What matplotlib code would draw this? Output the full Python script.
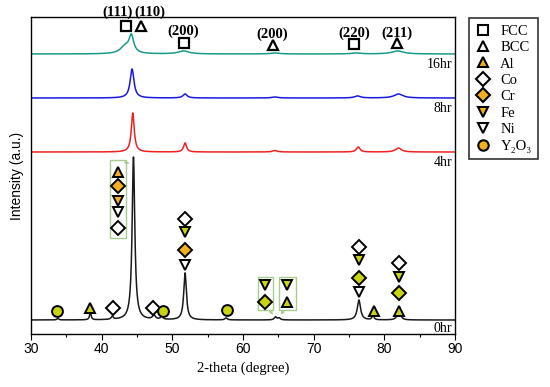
import numpy as np
import matplotlib
matplotlib.use("Agg")
import matplotlib.pyplot as plt
from matplotlib.lines import Line2D
from matplotlib.patches import Rectangle

SERIF = ["Liberation Serif", "DejaVu Serif"]
SANS = ["Liberation Sans", "DejaVu Sans"]

# ---- data (y in arbitrary intensity units) ----
two_theta = np.linspace(30, 90, 3000)

# each pattern: baseline, peak centres, peak heights, peak widths (FWHM, deg)
base_0hr = 14
pos_0hr = [33.8, 38.4, 41.5, 44.5, 47.4, 48.5, 51.8, 57.6, 64.6, 65.1, 76.4, 78.4, 81.9, 82.3]
hgt_0hr = [1.5, 8, 3, 163, 4, 3, 47, 2, 3, 2, 20, 5, 4, 3]
wid_0hr = [0.3, 0.25, 0.35, 0.45, 0.5, 0.4, 0.45, 0.4, 0.4, 0.4, 0.55, 0.3, 0.6, 0.5]

base_4hr = 182
pos_4hr = [44.4, 51.8, 64.5, 76.3, 82.0]
hgt_4hr = [39, 9, 1.5, 5, 4]
wid_4hr = [0.5, 0.5, 0.8, 0.6, 1.0]

base_8hr = 236
pos_8hr = [44.3, 51.8, 64.5, 76.2, 82.0]
hgt_8hr = [29, 4, 1, 2, 4]
wid_8hr = [0.65, 0.7, 1.0, 1.0, 1.5]

base_16hr = 280
pos_16hr = [43.3, 44.2, 51.6, 64.5, 76.0, 81.9]
hgt_16hr = [7, 17, 3, 1, 1, 3]
wid_16hr = [1.6, 0.8, 1.8, 1.5, 1.5, 2.0]

pattern_names = ["0hr", "4hr", "8hr", "16hr"]
pattern_colors = ["#1a1a1a", "#ee2222", "#1a1adf", "#1a9a8a"]
label_y = [6, 172, 225, 270]

# phase peak labels above the 16hr pattern
hkl_text = ["(111)", "(110)", "(200)", "(200)", "(220)", "(211)"]
hkl_x = [42.3, 46.8, 51.6, 64.2, 75.7, 81.8]
hkl_marker = ["s", "^", "s", "^", "s", "^"]
hkl_mx = [43.4, 45.6, 51.6, 64.2, 75.7, 81.8]
hkl_my = [308, 308, 291, 289, 290, 291]
hkl_ty = [322, 322, 303, 300, 301, 301]

# element markers on the 0hr pattern
elem_x = [33.7, 38.3, 41.6, 47.3, 48.7, 57.7,
          42.3, 42.3, 42.3, 42.3, 42.3,
          51.8, 51.8, 51.8, 51.8,
          63.1, 63.1, 66.2, 66.2,
          76.4, 76.4, 76.4, 76.4,
          78.5,
          82.1, 82.1, 82.1, 82.1]
elem_y = [23, 26, 26, 26, 23, 24,
          162, 148, 133, 122, 106,
          115, 102, 84, 69,
          49, 32, 49, 32,
          87, 74, 56, 42,
          23,
          71, 57, 41, 23]
elem_kind = ["Y2O3", "Al", "Co", "Co", "Y2O3", "Y2O3",
             "Al_o", "Cr_o", "Fe_o", "Ni", "Co",
             "Co", "Fe", "Cr_o", "Ni",
             "Fe", "Cr", "Fe", "Al",
             "Co", "Fe", "Cr", "Ni",
             "Al",
             "Co", "Fe", "Cr", "Al"]

# highlight boxes (x0, x1, y0, y1) and arrows pointing to peaks
box_x0 = [41.2, 62.1, 65.1]
box_x1 = [43.4, 64.2, 67.5]
box_y0 = [96, 24, 24]
box_y1 = [174, 57, 57]
arrow_from = [(43.4, 172), (63.9, 23), (65.7, 23)]
arrow_to = [(44.2, 169), (64.4, 17), (65.1, 17)]

orange = "#f0b020"
lime = "#c8d410"
styles = {
    "Al": dict(marker="^", mfc=lime), "Al_o": dict(marker="^", mfc=orange),
    "Co": dict(marker="D", mfc="white"),
    "Cr": dict(marker="D", mfc=lime), "Cr_o": dict(marker="D", mfc=orange),
    "Fe": dict(marker="v", mfc=lime), "Fe_o": dict(marker="v", mfc=orange),
    "Ni": dict(marker="v", mfc="white"),
    "Y2O3": dict(marker="o", mfc=lime),
}


def pattern(base, pos, hgt, wid):
    y = np.full_like(two_theta, base, dtype=float)
    for p, h, w in zip(pos, hgt, wid):
        g = (w / 2) ** 2
        y += h * g / ((two_theta - p) ** 2 + g)
    return y


patterns = [
    pattern(base_0hr, pos_0hr, hgt_0hr, wid_0hr),
    pattern(base_4hr, pos_4hr, hgt_4hr, wid_4hr),
    pattern(base_8hr, pos_8hr, hgt_8hr, wid_8hr),
    pattern(base_16hr, pos_16hr, hgt_16hr, wid_16hr),
]

fig = plt.figure(figsize=(5.5, 3.87), dpi=100)
ax = fig.add_axes([31 / 550, (387 - 334) / 387, 424 / 550, 317 / 387])

for y, name, col, ly in zip(patterns, pattern_names, pattern_colors, label_y):
    ax.plot(two_theta, y, color=col, lw=1.1)
    ax.text(89.6, ly, name, ha="right", va="center", fontsize=10, family=SERIF)

for x0, x1, y0, y1 in zip(box_x0, box_x1, box_y0, box_y1):
    ax.add_patch(Rectangle((x0, y0), x1 - x0, y1 - y0, fill=False,
                           ec="#a8cc90", lw=1.0, zorder=3))
for a, b in zip(arrow_from, arrow_to):
    ax.annotate("", xy=b, xytext=a,
                arrowprops=dict(arrowstyle="-|>", color="#a8cc90", lw=0.8,
                                mutation_scale=5))

for x, y, k in zip(elem_x, elem_y, elem_kind):
    st = styles[k]
    ms = 7 if st["marker"] == "D" else 7.8
    ax.plot(x, y, ls="none", marker=st["marker"], mfc=st["mfc"], mec="black",
            mew=1.4, ms=ms, zorder=4)

for t, tx, ty in zip(hkl_text, hkl_x, hkl_ty):
    ax.text(tx, ty, t, ha="center", va="center", fontsize=10.5, fontweight="bold",
            family=SERIF, clip_on=False)
for m, mx, my in zip(hkl_marker, hkl_mx, hkl_my):
    ax.plot(mx, my, ls="none", marker=m, mfc="white", mec="black", mew=1.6,
            ms=7.5, clip_on=False, zorder=5)

ax.set_xlim(30, 90)
ax.set_ylim(0, 317)
ax.set_yticks([])
ax.set_xticks(np.arange(30, 91, 10))
ax.set_xticks(np.arange(35, 90, 10), minor=True)
ax.tick_params(axis="x", which="major", direction="out", length=4, width=0.8,
               labelsize=10, pad=2)
ax.tick_params(axis="x", which="minor", direction="out", length=2.5, width=0.8)
for lab in ax.get_xticklabels():
    lab.set_family(SANS)
for sp in ax.spines.values():
    sp.set_linewidth(1.0)
ax.set_xlabel("2-theta (degree)", fontsize=10.5, family=SERIF, labelpad=4)
ax.set_ylabel("Intensity (a.u.)", fontsize=10, family=SANS, labelpad=5)

# legend
leg_labels = ["FCC", "BCC", "Al", "Co", "Cr", "Fe", "Ni", "Y\u2082O\u2083"]
leg_kinds = [("s", "white"), ("^", "white"), ("^", orange), ("D", "white"),
             ("D", orange), ("v", orange), ("v", "white"), ("o", orange)]
handles = [Line2D([], [], ls="none", marker=m, mfc=c, mec="black", mew=1.5,
                  ms=7 if m == "D" else 7.5) for m, c in leg_kinds]
leg = fig.legend(handles, leg_labels, loc="upper left",
                 bbox_to_anchor=(469 / 550, 1 - 18 / 387),
                 prop=dict(family=SERIF, size=10.5), frameon=True, fancybox=False,
                 edgecolor="black", handlelength=1.0, handletextpad=0.7,
                 labelspacing=0.22, borderpad=0.45, borderaxespad=0)
leg.get_frame().set_linewidth(1.2)

fig.savefig("out.png", dpi=100)
